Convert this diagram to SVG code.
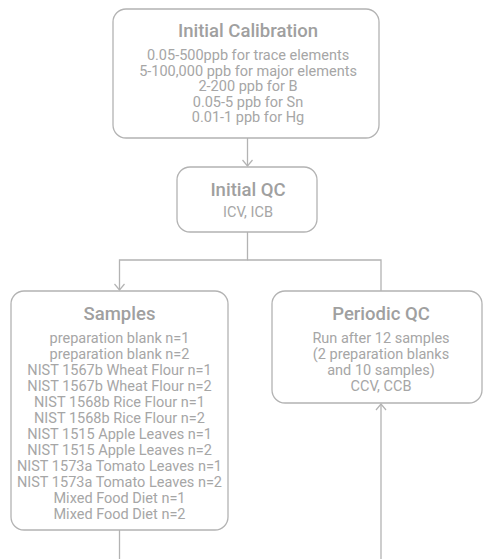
<svg xmlns="http://www.w3.org/2000/svg" width="483" height="559" viewBox="0 0 483 559">
<style>
.box{fill:#ffffff;stroke:#b3b3b3;stroke-width:1.3}
.t{font-family:Roboto,"Liberation Sans",sans-serif;font-size:18.5px;font-weight:500;fill:#a0a0a0;text-anchor:middle}
.b{font-family:Roboto,"Liberation Sans",sans-serif;font-size:14.5px;fill:#a6a6a6;text-anchor:middle}
.c{fill:none;stroke:#b3b3b3;stroke-width:1.3}
</style>
<defs>
<marker id="ah" viewBox="0 0 12 12" refX="11" refY="6" markerWidth="12" markerHeight="12" markerUnits="userSpaceOnUse" orient="auto">
<path d="M5,1 L11,6 L5,11" fill="none" stroke="#b3b3b3" stroke-width="1.2"/>
</marker>
</defs>
<rect width="483" height="559" fill="#ffffff"/>
<g id="connectors">
<path class="c" d="M247.5,138 V166" marker-end="url(#ah)"/>
<path class="c" d="M247.5,232 V260 H119.5 V290" marker-end="url(#ah)"/>
<path class="c" d="M247.5,260 H381 V291"/>
<path class="c" d="M119.5,530 V559"/>
<path class="c" d="M381,559 V404" marker-end="url(#ah)"/>
</g>
<g id="initial-calibration">
<rect class="box" x="113" y="9" width="266" height="129" rx="13"/>
<text class="t" x="248" y="37">Initial Calibration</text>
<text class="b" x="248" y="60">0.05-500ppb for trace elements</text>
<text class="b" x="248" y="75.5">5-100,000 ppb for major elements</text>
<text class="b" x="248" y="91">2-200 ppb for B</text>
<text class="b" x="248" y="106.5">0.05-5 ppb for Sn</text>
<text class="b" x="248" y="122">0.01-1 ppb for Hg</text>
</g>
<g id="initial-qc">
<rect class="box" x="177" y="167" width="140" height="65" rx="13"/>
<text class="t" x="248" y="196">Initial QC</text>
<text class="b" x="248" y="217">ICV, ICB</text>
</g>
<g id="samples">
<rect class="box" x="11" y="291" width="217" height="239" rx="13"/>
<text class="t" x="119.5" y="320">Samples</text>
<text class="b" x="119.5" y="343">preparation blank n=1</text>
<text class="b" x="119.5" y="359">preparation blank n=2</text>
<text class="b" x="119.5" y="375">NIST 1567b Wheat Flour n=1</text>
<text class="b" x="119.5" y="391">NIST 1567b Wheat Flour n=2</text>
<text class="b" x="119.5" y="407">NIST 1568b Rice Flour n=1</text>
<text class="b" x="119.5" y="423">NIST 1568b Rice Flour n=2</text>
<text class="b" x="119.5" y="439">NIST 1515 Apple Leaves n=1</text>
<text class="b" x="119.5" y="455">NIST 1515 Apple Leaves n=2</text>
<text class="b" x="119.5" y="471">NIST 1573a Tomato Leaves n=1</text>
<text class="b" x="119.5" y="487">NIST 1573a Tomato Leaves n=2</text>
<text class="b" x="119.5" y="503">Mixed Food Diet n=1</text>
<text class="b" x="119.5" y="519">Mixed Food Diet n=2</text>
</g>
<g id="periodic-qc">
<rect class="box" x="272" y="291" width="210" height="112" rx="13"/>
<text class="t" x="381" y="320">Periodic QC</text>
<text class="b" x="381" y="343">Run after 12 samples</text>
<text class="b" x="381" y="359">(2 preparation blanks</text>
<text class="b" x="381" y="375">and 10 samples)</text>
<text class="b" x="381" y="391">CCV, CCB</text>
</g>
</svg>
